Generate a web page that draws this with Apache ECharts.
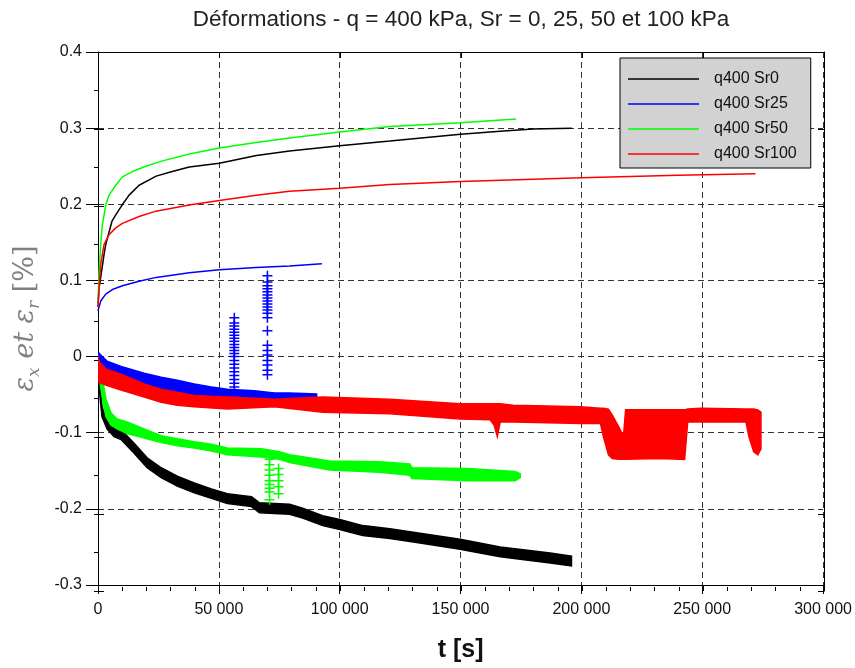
<!DOCTYPE html>
<html>
<head>
<meta charset="utf-8">
<script src="https://cdn.jsdelivr.net/npm/echarts@6/dist/echarts.min.js"></script>
<style>html,body{margin:0;padding:0;background:#fff;}#c{width:855px;height:668px;}</style>
</head>
<body>
<div id="c"></div>
<script>
// ---------- DATA ----------
const seriesNames = ['q400 Sr0', 'q400 Sr25', 'q400 Sr50', 'q400 Sr100'];
const xTicks = [0, 50000, 100000, 150000, 200000, 250000, 300000];
const yTicks = [-0.3, -0.2, -0.1, 0, 0.1, 0.2, 0.3, 0.4];

// upper curves (epsilon x)
const sr0CurveT = [0, 415, 1120, 2490, 3190, 5810, 7340, 9960, 12860, 17000, 21160, 24070, 30700, 37760, 50200, 65560, 79250, 100000, 120750, 150000, 166400, 180000, 196000];
const sr0CurveV = [0.065, 0.09, 0.104, 0.134, 0.147, 0.178, 0.186, 0.199, 0.212, 0.225, 0.232, 0.237, 0.243, 0.249, 0.254, 0.264, 0.270, 0.277, 0.283, 0.292, 0.296, 0.299, 0.300];
const sr25CurveT = [0, 1120, 3190, 5950, 10100, 17000, 24070, 37760, 50200, 65440, 79250, 92650];
const sr25CurveV = [0.060, 0.073, 0.082, 0.088, 0.093, 0.099, 0.104, 0.110, 0.114, 0.117, 0.119, 0.122];
const sr50CurveT = [0, 415, 1120, 1800, 3190, 4560, 7340, 10100, 14240, 19780, 26680, 37760, 50200, 65440, 79250, 100000, 120750, 150000, 173000];
const sr50CurveV = [0.065, 0.11, 0.147, 0.173, 0.199, 0.212, 0.225, 0.236, 0.243, 0.250, 0.257, 0.266, 0.274, 0.281, 0.287, 0.295, 0.302, 0.307, 0.312];
const sr100CurveT = [0, 415, 1120, 2490, 4560, 7340, 10100, 17000, 23940, 37760, 50200, 65440, 79250, 100000, 120750, 150000, 200000, 240000, 272000];
const sr100CurveV = [0.065, 0.09, 0.121, 0.147, 0.160, 0.169, 0.175, 0.184, 0.191, 0.199, 0.205, 0.212, 0.217, 0.221, 0.226, 0.230, 0.235, 0.238, 0.240];

// lower noisy bands (epsilon r): time, upper edge, lower edge
const sr0BandT = [0, 830, 1660, 3730, 6640, 9540, 14940, 20330, 26140, 32780, 39830, 46890, 53530, 63490, 66810, 79250, 84650, 92950, 100000, 109540, 120750, 133200, 149800, 166400, 187100, 195900];
const sr0BandTop = [0.003, -0.034, -0.066, -0.084, -0.092, -0.096, -0.114, -0.133, -0.146, -0.157, -0.166, -0.174, -0.180, -0.184, -0.192, -0.194, -0.199, -0.209, -0.214, -0.222, -0.226, -0.232, -0.240, -0.250, -0.258, -0.262];
const sr0BandBot = [-0.004, -0.053, -0.079, -0.095, -0.105, -0.109, -0.127, -0.146, -0.159, -0.170, -0.179, -0.186, -0.193, -0.197, -0.205, -0.207, -0.212, -0.222, -0.227, -0.235, -0.239, -0.245, -0.253, -0.263, -0.271, -0.275];

const sr25BandT = [0, 830, 3730, 9540, 19090, 26140, 32780, 39830, 46890, 53530, 64730, 73030, 79250, 90460];
const sr25BandTop = [0.006, 0.003, -0.006, -0.013, -0.022, -0.027, -0.031, -0.036, -0.040, -0.043, -0.045, -0.048, -0.048, -0.049];
const sr25BandBot = [-0.004, -0.011, -0.020, -0.027, -0.039, -0.045, -0.049, -0.053, -0.054, -0.056, -0.057, -0.058, -0.058, -0.056];

const sr50BandT = [0, 830, 2070, 3320, 5390, 7880, 12030, 19090, 26140, 32780, 39830, 46890, 53530, 67640, 75100, 79250, 95850, 116600, 129000, 129900, 152700, 172600, 174700];
const sr50BandTop = [-0.001, -0.017, -0.034, -0.056, -0.074, -0.082, -0.086, -0.095, -0.104, -0.108, -0.112, -0.115, -0.120, -0.121, -0.125, -0.129, -0.137, -0.138, -0.141, -0.146, -0.147, -0.151, -0.154];
const sr50BandBot = [-0.011, -0.034, -0.060, -0.079, -0.090, -0.095, -0.101, -0.107, -0.113, -0.117, -0.120, -0.124, -0.129, -0.132, -0.135, -0.139, -0.149, -0.152, -0.156, -0.160, -0.163, -0.163, -0.159];

const sr100BandT = [0, 415, 3730, 9540, 19090, 26140, 32780, 39830, 53530, 73030, 92950, 120750, 149800, 162200, 163900, 165200, 166400, 171800, 199600, 207900, 209100, 211200, 212800, 215400, 217400, 218300, 232800, 242700, 244000, 249400, 268100, 269300, 271300, 273000, 274300];
const sr100BandTop = [-0.001, -0.007, -0.017, -0.023, -0.036, -0.043, -0.047, -0.051, -0.053, -0.056, -0.053, -0.056, -0.062, -0.062, -0.062, -0.062, -0.062, -0.064, -0.066, -0.068, -0.068, -0.069, -0.077, -0.092, -0.105, -0.070, -0.070, -0.070, -0.069, -0.068, -0.069, -0.069, -0.069, -0.070, -0.073];
const sr100BandBot = [-0.004, -0.034, -0.038, -0.044, -0.053, -0.060, -0.064, -0.066, -0.069, -0.066, -0.073, -0.075, -0.082, -0.083, -0.090, -0.105, -0.086, -0.086, -0.088, -0.088, -0.105, -0.129, -0.134, -0.135, -0.135, -0.135, -0.134, -0.135, -0.086, -0.086, -0.086, -0.105, -0.125, -0.129, -0.121];

// isolated "+" measurement points
const sr25OutT = [56400, 56400, 56400, 56400, 56400, 56400, 56400, 56400, 56400, 56400, 56400, 56400, 56400, 56400, 56400, 56400, 56400, 56400, 56400, 56400, 56400,
                  70100, 70100, 70100, 70100, 70100, 70100, 70100, 70100, 70100, 70100, 70100, 70100, 70100, 70100, 70100, 70100, 70100, 70100, 70100, 70100, 70100];
const sr25OutV = [0.051, 0.044, 0.040, 0.036, 0.032, 0.028, 0.024, 0.020, 0.016, 0.012, 0.008, 0.004, 0.000, -0.005, -0.010, -0.015, -0.020, -0.025, -0.030, -0.035, -0.040,
                  0.106, 0.098, 0.093, 0.089, 0.085, 0.081, 0.077, 0.073, 0.069, 0.065, 0.061, 0.057, 0.051, 0.034, 0.015, 0.008, 0.002, -0.005, -0.011, -0.018, -0.024];
const sr50OutT = [70950, 70950, 70950, 70950, 70950, 70950, 70950, 70950, 70950, 74700, 74700, 74700, 74700, 74700];
const sr50OutV = [-0.135, -0.142, -0.149, -0.156, -0.163, -0.168, -0.173, -0.178, -0.188, -0.147, -0.155, -0.163, -0.171, -0.180];

// ---------- CHART ----------
const colors = ['#000000', '#0000ff', '#00ff00', '#ff0000'];
const FONT = "'Liberation Sans', Arial, sans-serif";
const zip = (a, b) => a.map((v, i) => [v, b[i]]);
const plus = 'path://M4.25,0h1.5v4.25h4.25v1.5h-4.25v4.25h-1.5v-4.25h-4.25v-1.5h4.25z';

function curve(name, color, T, V) {
  return { type: 'line', name, xAxisIndex: 0, yAxisIndex: 0, data: zip(T, V), symbol: 'none',
    lineStyle: { color, width: 1.5 }, itemStyle: { color }, z: 4, clip: true };
}
function band(name, color, T, top, bot, z) {
  return {
    type: 'custom', name, xAxisIndex: 0, yAxisIndex: 0, z, clip: true,
    data: [[T[0], top[0]]],
    renderItem: function (params, api) {
      const pts = [];
      for (let i = 0; i < T.length; i++) pts.push(api.coord([T[i], top[i]]));
      for (let i = T.length - 1; i >= 0; i--) pts.push(api.coord([T[i], bot[i]]));
      return { type: 'polygon', shape: { points: pts }, style: { fill: color, stroke: color, lineWidth: 1.5 } };
    }
  };
}
function marks(name, color, T, V, z) {
  return { type: 'scatter', name, xAxisIndex: 0, yAxisIndex: 0, data: zip(T, V), symbol: plus, symbolSize: 10,
    itemStyle: { color, opacity: 1 }, z };
}

const axisMin = { x: xTicks[0], X: xTicks[xTicks.length - 1], y: yTicks[0], Y: yTicks[yTicks.length - 1] };
const black = { color: '#000', width: 1 };
const gridBox = { left: 98, right: 31, top: 52, bottom: 77, containLabel: false };
const lineOn = { show: true, onZero: false, lineStyle: black };
const lineOff = { show: false, onZero: false };

const option = {
  animation: false,
  backgroundColor: '#ffffff',
  title: {
    text: 'Déformations - q = 400 kPa, Sr = 0, 25, 50 et 100 kPa',
    left: 456, top: 3, textAlign: 'center',
    textStyle: { fontFamily: FONT, fontSize: 22.5, fontWeight: 'normal', color: '#222' }
  },
  legend: {
    data: seriesNames.map(n => ({ name: n, icon: 'rect' })), orient: 'vertical', left: 620, top: 58,
    itemWidth: 71, itemHeight: 1.5, itemGap: 9,
    padding: [13, 14, 6, 8],
    backgroundColor: '#d2d2d2', borderColor: '#000', borderWidth: 1,
    textStyle: { fontFamily: FONT, fontSize: 16, lineHeight: 16, color: '#111', padding: [0, 0, 0, 10] },
    selectedMode: false
  },
  grid: [ Object.assign({}, gridBox), Object.assign({}, gridBox), Object.assign({}, gridBox) ],
  xAxis: [
    { type: 'value', gridIndex: 0, position: 'bottom', min: axisMin.x, max: axisMin.X, interval: 50000,
      axisLine: lineOn, axisTick: { show: true, inside: false, length: 9, lineStyle: black },
      axisLabel: { fontFamily: FONT, fontSize: 16, color: '#111', margin: 17,
        formatter: v => v === 0 ? '0' : (v / 1000) + ' 000' },
      splitLine: { show: true, lineStyle: { type: [6, 4], color: '#333', width: 1 } },
      name: 't [s]', nameLocation: 'middle', nameGap: 53,
      nameTextStyle: { fontFamily: FONT, fontSize: 25, fontWeight: 'bold', color: '#111' } },
    { type: 'value', gridIndex: 1, position: 'bottom', min: axisMin.x, max: axisMin.X, interval: 50000,
      axisLine: lineOff, axisTick: { show: true, inside: true, length: 6, lineStyle: black },
      minorTick: { show: true, splitNumber: 5, length: 4, lineStyle: black },
      axisLabel: { show: false }, splitLine: { show: false } },
    { type: 'value', gridIndex: 1, position: 'top', min: axisMin.x, max: axisMin.X, interval: 50000,
      axisLine: lineOn, axisTick: { show: true, inside: true, length: 6, lineStyle: black },
      axisLabel: { show: false }, splitLine: { show: false } },
    { type: 'value', gridIndex: 2, show: false, min: axisMin.x, max: axisMin.X, axisLine: lineOff }
  ],
  yAxis: [
    { type: 'value', gridIndex: 0, position: 'left', min: axisMin.y, max: axisMin.Y, interval: 0.1,
      axisLine: lineOn, axisTick: { show: true, inside: false, length: 12, lineStyle: black },
      axisLabel: { fontFamily: FONT, fontSize: 16, color: '#111', margin: 16,
        formatter: v => Math.abs(v) < 1e-9 ? '0' : String(Math.round(v * 10) / 10) },
      splitLine: { show: true, lineStyle: { type: [6, 4], color: '#333', width: 1 } },
      name: '{i|ε}{s|x}{i| et ε}{s|r}{n| [%]}', nameLocation: 'middle', nameGap: 58, nameRotate: 90,
      nameTextStyle: { rich: {
        i: { fontFamily: "'DejaVu Serif', serif", fontStyle: 'italic', fontSize: 27, color: '#808080', verticalAlign: 'bottom' },
        s: { fontFamily: "'DejaVu Serif', serif", fontStyle: 'italic', fontSize: 17, color: '#808080', verticalAlign: 'bottom', padding: [0, 0, -4, 0] },
        n: { fontFamily: "'DejaVu Serif', serif", fontSize: 27, color: '#808080', verticalAlign: 'bottom' }
      } } },
    { type: 'value', gridIndex: 1, position: 'left', min: axisMin.y, max: axisMin.Y, interval: 0.1,
      axisLine: lineOff, axisTick: { show: true, inside: true, length: 6, lineStyle: black },
      axisLabel: { show: false }, splitLine: { show: false } },
    { type: 'value', gridIndex: 1, position: 'right', min: axisMin.y, max: axisMin.Y, interval: 0.1,
      axisLine: lineOn, axisTick: { show: true, inside: true, length: 6, lineStyle: black },
      axisLabel: { show: false }, splitLine: { show: false } },
    { type: 'value', gridIndex: 2, position: 'left', min: axisMin.y, max: axisMin.Y, interval: 0.05,
      axisLine: lineOff, axisTick: { show: true, inside: false, length: 4, lineStyle: black },
      axisLabel: { show: false }, splitLine: { show: false } }
  ],
  series: [
    curve(seriesNames[0], colors[0], sr0CurveT, sr0CurveV),
    curve(seriesNames[1], colors[1], sr25CurveT, sr25CurveV),
    curve(seriesNames[2], colors[2], sr50CurveT, sr50CurveV),
    curve(seriesNames[3], colors[3], sr100CurveT, sr100CurveV),
    band(seriesNames[0], colors[0], sr0BandT, sr0BandTop, sr0BandBot, 2),
    band(seriesNames[1], colors[1], sr25BandT, sr25BandTop, sr25BandBot, 3),
    band(seriesNames[2], colors[2], sr50BandT, sr50BandTop, sr50BandBot, 3),
    band(seriesNames[3], colors[3], sr100BandT, sr100BandTop, sr100BandBot, 3),
    marks(seriesNames[1], colors[1], sr25OutT, sr25OutV, 4),
    marks(seriesNames[2], colors[2], sr50OutT, sr50OutV, 4)
  ]
};
const chart = echarts.init(document.getElementById('c'), null, { renderer: 'canvas' });
chart.setOption(option);
</script>
</body>
</html>
